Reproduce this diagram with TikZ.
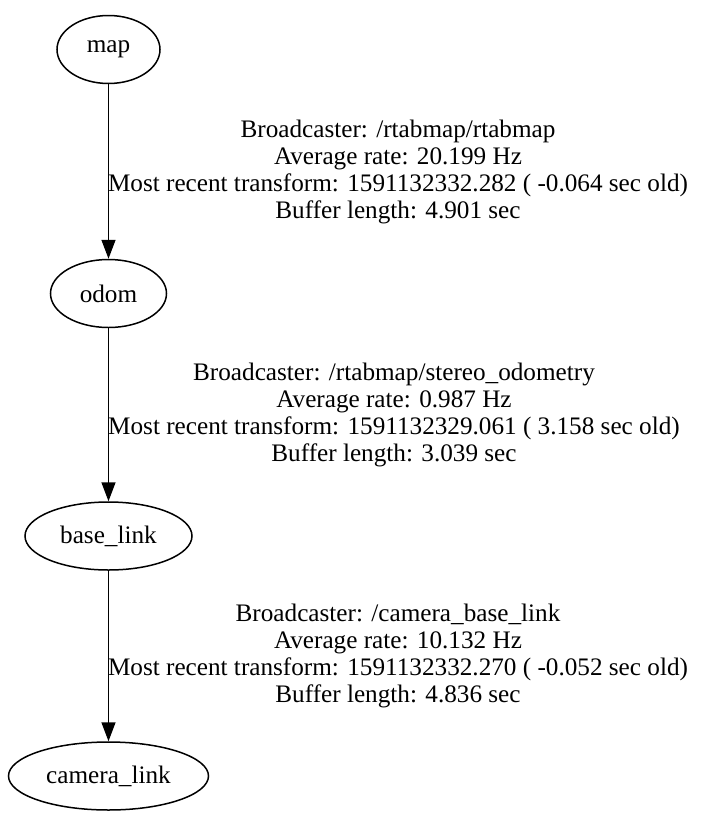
\documentclass[tikz,border=0pt]{standalone}
\usepackage{fontspec}
\setmainfont{Liberation Serif}
\usetikzlibrary{shapes.geometric,arrows.meta}
\begin{document}
\begin{tikzpicture}[x=1pt,y=-1pt,
  frame/.style={ellipse,draw,line width=1.5pt,inner sep=0pt,font=\fontsize{25.2}{28}\selectfont},
  edge/.style={line width=1.5pt,-{Triangle[length=19pt,width=14pt]}},
  lbl/.style={align=center,font=\fontsize{25.2}{27.3}\selectfont,inner sep=0pt}]
\useasboundingbox (0,0) rectangle (702,833);
\node[frame,minimum width=103pt,minimum height=68pt] (map) at (108.5,49.5) {map};
\node[frame,minimum width=116pt,minimum height=68pt] (odom) at (108.5,293.5) {odom};
\node[frame,minimum width=167pt,minimum height=68pt] (base) at (108.5,536) {base\_link};
\node[frame,minimum width=200pt,minimum height=68pt] (cam) at (108.5,776) {camera\_link};
\draw[edge] (map) -- (odom);
\draw[edge] (odom) -- (base);
\draw[edge] (base) -- (cam);
\node[lbl] (l1) at (398,172) {Broadcaster: /rtabmap/rtabmap\\Average rate: 20.199 Hz\\Most recent transform: 1591132332.282 ( -0.064 sec old)\\Buffer length: 4.901 sec};
\node[lbl] (l2) at (394,415) {Broadcaster: /rtabmap/stereo\_odometry\\Average rate: 0.987 Hz\\Most recent transform: 1591132329.061 ( 3.158 sec old)\\Buffer length: 3.039 sec};
\node[lbl] (l3) at (398,656) {Broadcaster: /camera\_base\_link\\Average rate: 10.132 Hz\\Most recent transform: 1591132332.270 ( -0.052 sec old)\\Buffer length: 4.836 sec};
\end{tikzpicture}
\end{document}
